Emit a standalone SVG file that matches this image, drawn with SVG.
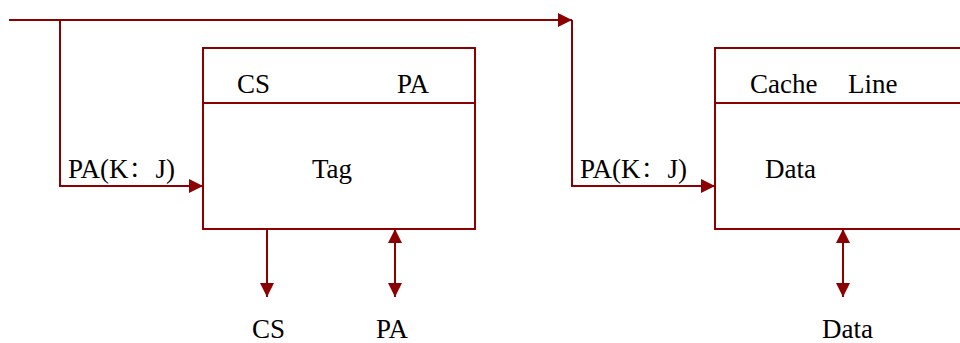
<svg xmlns="http://www.w3.org/2000/svg" width="960" height="343" viewBox="0 0 960 343">
<defs>
<style>
.ln{stroke:#8b0000;stroke-width:2;fill:none}
.bx{stroke:#8b0000;stroke-width:2;fill:#ffffff}
.t{font-family:"Liberation Serif","Noto Serif CJK SC","Noto Sans CJK SC",serif;font-size:27px;fill:#000}
</style>
<marker id="ah" viewBox="0 0 14 14" refX="14" refY="7" markerWidth="14" markerHeight="14" markerUnits="userSpaceOnUse" orient="auto-start-reverse">
<path d="M0,0 L14,7 L0,14 Z" fill="#8b0000"/>
</marker>
</defs>
<rect width="960" height="343" fill="#ffffff"/>
<g id="connectors">
<path class="ln" d="M9,20 H572" marker-end="url(#ah)"/>
<path class="ln" d="M60,20 V186 H203" marker-end="url(#ah)"/>
<path class="ln" d="M572,20 V186 H715" marker-end="url(#ah)"/>
<path class="ln" d="M267,229 V297" marker-end="url(#ah)"/>
<path class="ln" d="M395,229 V297" marker-start="url(#ah)" marker-end="url(#ah)"/>
<path class="ln" d="M843,229 V297" marker-start="url(#ah)" marker-end="url(#ah)"/>
</g>
<g id="tag-box">
<rect class="bx" x="203" y="48" width="272" height="181"/>
<line class="ln" x1="203" y1="103" x2="475" y2="103"/>
<text class="t" x="237" y="93">CS</text>
<text class="t" x="397" y="93">PA</text>
<text class="t" x="312" y="178">Tag</text>
</g>
<g id="data-box">
<rect class="bx" x="715" y="48" width="260" height="181"/>
<line class="ln" x1="715" y1="103" x2="975" y2="103"/>
<text class="t" x="750" y="93">Cache</text>
<text class="t" x="848" y="93">Line</text>
<text class="t" x="765" y="178">Data</text>
</g>
<g id="labels">
<text class="t" x="68" y="178">PA(K：J)</text>
<text class="t" x="580" y="178">PA(K：J)</text>
<text class="t" x="252" y="338">CS</text>
<text class="t" x="376" y="338">PA</text>
<text class="t" x="822" y="338">Data</text>
</g>
</svg>
